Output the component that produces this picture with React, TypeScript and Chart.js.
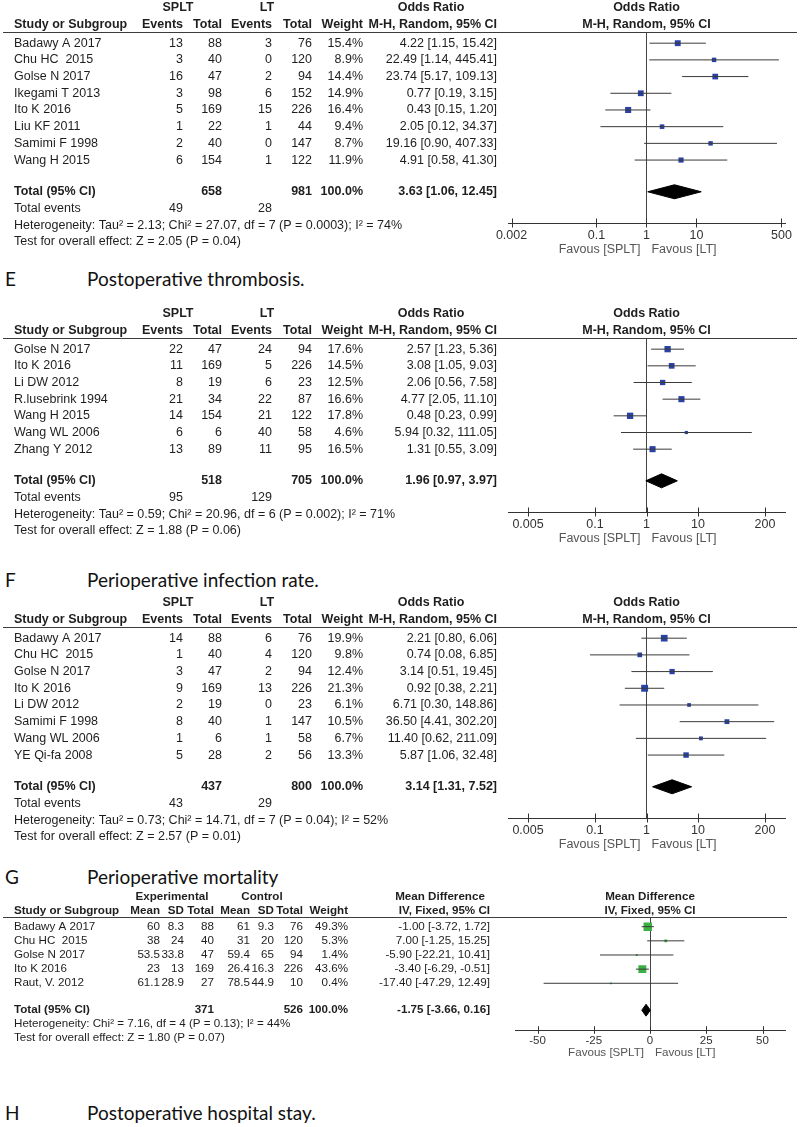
import React, { useEffect, useRef } from "react";
import { Chart, registerables } from "chart.js";

Chart.register(...registerables);

const FONT = '"Liberation Sans", Arial, Helvetica, sans-serif';
const CAP_FONT = 'Lato, "Open Sans", sans-serif';

// ---------- Panel 1 (odds ratio, top) ----------
const p1Studies = ["Badawy A 2017", "Chu HC  2015", "Golse N 2017", "Ikegami T 2013", "Ito K 2016", "Liu KF 2011", "Samimi F 1998", "Wang H 2015"];
const p1SpltEvents = [13, 3, 16, 3, 5, 1, 2, 6];
const p1SpltTotal = [88, 40, 47, 98, 169, 22, 40, 154];
const p1LtEvents = [3, 0, 2, 6, 15, 1, 0, 1];
const p1LtTotal = [76, 120, 94, 152, 226, 44, 147, 122];
const p1Weight = [15.4, 8.9, 14.4, 14.9, 16.4, 9.4, 8.7, 11.9];
const p1OR = [4.22, 22.49, 23.74, 0.77, 0.43, 2.05, 19.16, 4.91];
const p1Lo = [1.15, 1.14, 5.17, 0.19, 0.15, 0.12, 0.9, 0.58];
const p1Hi = [15.42, 445.41, 109.13, 3.15, 1.2, 34.37, 407.33, 41.3];
const p1Totals = [658, 981];
const p1TotalEvents = [49, 28];
const p1Pooled = [3.63, 1.06, 12.45];
const p1Het = "Heterogeneity: Tau² = 2.13; Chi² = 27.07, df = 7 (P = 0.0003); I² = 74%";
const p1Test = "Test for overall effect: Z = 2.05 (P = 0.04)";
const p1Ticks = [0.002, 0.1, 1, 10, 500];
const p1TickLabels = ["0.002", "0.1", "1", "10", "500"];

// ---------- Panel 2 (infection) ----------
const p2Studies = ["Golse N 2017", "Ito K 2016", "Li DW 2012", "R.lusebrink 1994", "Wang H 2015", "Wang WL 2006", "Zhang Y 2012"];
const p2SpltEvents = [22, 11, 8, 21, 14, 6, 13];
const p2SpltTotal = [47, 169, 19, 34, 154, 6, 89];
const p2LtEvents = [24, 5, 6, 22, 21, 40, 11];
const p2LtTotal = [94, 226, 23, 87, 122, 58, 95];
const p2Weight = [17.6, 14.5, 12.5, 16.6, 17.8, 4.6, 16.5];
const p2OR = [2.57, 3.08, 2.06, 4.77, 0.48, 5.94, 1.31];
const p2Lo = [1.23, 1.05, 0.56, 2.05, 0.23, 0.32, 0.55];
const p2Hi = [5.36, 9.03, 7.58, 11.1, 0.99, 111.05, 3.09];
const p2Totals = [518, 705];
const p2TotalEvents = [95, 129];
const p2Pooled = [1.96, 0.97, 3.97];
const p2Het = "Heterogeneity: Tau² = 0.59; Chi² = 20.96, df = 6 (P = 0.002); I² = 71%";
const p2Test = "Test for overall effect: Z = 1.88 (P = 0.06)";
const p2Ticks = [0.005, 0.1, 1, 10, 200];
const p2TickLabels = ["0.005", "0.1", "1", "10", "200"];

// ---------- Panel 3 (mortality) ----------
const p3Studies = ["Badawy A 2017", "Chu HC  2015", "Golse N 2017", "Ito K 2016", "Li DW 2012", "Samimi F 1998", "Wang WL 2006", "YE Qi-fa 2008"];
const p3SpltEvents = [14, 1, 3, 9, 2, 8, 1, 5];
const p3SpltTotal = [88, 40, 47, 169, 19, 40, 6, 28];
const p3LtEvents = [6, 4, 2, 13, 0, 1, 1, 2];
const p3LtTotal = [76, 120, 94, 226, 23, 147, 58, 56];
const p3Weight = [19.9, 9.8, 12.4, 21.3, 6.1, 10.5, 6.7, 13.3];
const p3OR = [2.21, 0.74, 3.14, 0.92, 6.71, 36.5, 11.4, 5.87];
const p3Lo = [0.8, 0.08, 0.51, 0.38, 0.3, 4.41, 0.62, 1.06];
const p3Hi = [6.06, 6.85, 19.45, 2.21, 148.86, 302.2, 211.09, 32.48];
const p3Totals = [437, 800];
const p3TotalEvents = [43, 29];
const p3Pooled = [3.14, 1.31, 7.52];
const p3Het = "Heterogeneity: Tau² = 0.73; Chi² = 14.71, df = 7 (P = 0.04); I² = 52%";
const p3Test = "Test for overall effect: Z = 2.57 (P = 0.01)";
const p3Ticks = [0.005, 0.1, 1, 10, 200];
const p3TickLabels = ["0.005", "0.1", "1", "10", "200"];

// ---------- Panel 4 (hospital stay, mean difference) ----------
const p4Studies = ["Badawy A 2017", "Chu HC  2015", "Golse N 2017", "Ito K 2016", "Raut, V. 2012"];
const p4ExpMean = [60, 38, 53.5, 23, 61.1];
const p4ExpSD = [8.3, 24, 33.8, 13, 28.9];
const p4ExpTotal = [88, 40, 47, 169, 27];
const p4CtlMean = [61, 31, 59.4, 26.4, 78.5];
const p4CtlSD = [9.3, 20, 65, 16.3, 44.9];
const p4CtlTotal = [76, 120, 94, 226, 10];
const p4Weight = [49.3, 5.3, 1.4, 43.6, 0.4];
const p4MD = [-1.0, 7.0, -5.9, -3.4, -17.4];
const p4Lo = [-3.72, -1.25, -22.21, -6.29, -47.29];
const p4Hi = [1.72, 15.25, 10.41, -0.51, 12.49];
const p4Totals = [371, 526];
const p4Pooled = [-1.75, -3.66, 0.16];
const p4Het = "Heterogeneity: Chi² = 7.16, df = 4 (P = 0.13); I² = 44%";
const p4Test = "Test for overall effect: Z = 1.80 (P = 0.07)";
const p4Ticks = [-50, -25, 0, 25, 50];
const p4TickLabels = ["-50", "-25", "0", "25", "50"];

// ---------- captions ----------
const captions = [
  { letter: "E", text: "Postoperative thrombosis.", y: 279 },
  { letter: "F", text: "Perioperative infection rate.", y: 580 },
  { letter: "G", text: "Perioperative mortality", y: 877 },
  { letter: "H", text: "Postoperative hospital stay.", y: 1113 },
];

type Col = { head: string; x: number; vals: string[]; total?: string; events?: string };
type PanelDef = {
  canvasTop: number;
  v: number; // vertical scale of the panel
  s: number; // font scale (horizontal)
  sq: number; // vertical squish of text glyphs
  axisRow: number; // axis position, rows after last study
  tickFont: number;
  studies: string[];
  groups: { label: string; x: number }[];
  cols: Col[];
  plotTitle: string;
  plotSub: string;
  het: string;
  test: string;
  hasEvents: boolean;
  est: number[];
  lo: number[];
  hi: number[];
  weight: number[];
  pooled: number[];
  xType: "logarithmic" | "linear";
  xMin: number;
  xMax: number;
  nullValue: number;
  ticks: number[];
  tickLabels: string[];
  plotLeft: number;
  plotRight: number;
  lineRight: number;
  markerColor: string;
  markerK: number;
  diamondH: number;
};

const ROW = 16.7;
const ci = (e: number, l: number, h: number) => `${e.toFixed(2)} [${l.toFixed(2)}, ${h.toFixed(2)}]`;
const pct = (w: number) => `${w.toFixed(1)}%`;

function orPanel(
  canvasTop: number,
  studies: string[], e1: number[], n1: number[], e2: number[], n2: number[], w: number[],
  est: number[], lo: number[], hi: number[], totals: number[], tev: number[], pooled: number[],
  het: string, test: string, ticks: number[], tickLabels: string[], xMin: number, xMax: number
): PanelDef {
  return {
    canvasTop, v: 1, s: 1, sq: 1, axisRow: 2.77, tickFont: 12.5, studies,
    groups: [{ label: "SPLT", x: 178 }, { label: "LT", x: 267 }, { label: "Odds Ratio", x: 431 }],
    cols: [
      { head: "Events", x: 183, vals: e1.map(String), events: String(tev[0]) },
      { head: "Total", x: 222, vals: n1.map(String), total: String(totals[0]) },
      { head: "Events", x: 272, vals: e2.map(String), events: String(tev[1]) },
      { head: "Total", x: 312, vals: n2.map(String), total: String(totals[1]) },
      { head: "Weight", x: 363, vals: w.map(pct), total: "100.0%" },
      { head: "M-H, Random, 95% CI", x: 497, vals: est.map((v, i) => ci(v, lo[i], hi[i])), total: ci(pooled[0], pooled[1], pooled[2]) },
    ],
    plotTitle: "Odds Ratio", plotSub: "M-H, Random, 95% CI",
    het, test, hasEvents: true, est, lo, hi, weight: w, pooled,
    xType: "logarithmic", xMin, xMax, nullValue: 1, ticks, tickLabels,
    plotLeft: 508, plotRight: 785, lineRight: 797,
    markerColor: "#2a42a6", markerK: 1.06, diamondH: 0.42,
  };
}

const panels: PanelDef[] = [
  orPanel(0, p1Studies, p1SpltEvents, p1SpltTotal, p1LtEvents, p1LtTotal, p1Weight, p1OR, p1Lo, p1Hi, p1Totals, p1TotalEvents, p1Pooled, p1Het, p1Test, p1Ticks, p1TickLabels, 0.0017, 590),
  orPanel(306, p2Studies, p2SpltEvents, p2SpltTotal, p2LtEvents, p2LtTotal, p2Weight, p2OR, p2Lo, p2Hi, p2Totals, p2TotalEvents, p2Pooled, p2Het, p2Test, p2Ticks, p2TickLabels, 0.00204, 490),
  orPanel(595, p3Studies, p3SpltEvents, p3SpltTotal, p3LtEvents, p3LtTotal, p3Weight, p3OR, p3Lo, p3Hi, p3Totals, p3TotalEvents, p3Pooled, p3Het, p3Test, p3Ticks, p3TickLabels, 0.00204, 490),
  {
    canvasTop: 890, v: 0.85, s: 0.93, sq: 0.92, axisRow: 2.3, tickFont: 11.5, studies: p4Studies,
    groups: [{ label: "Experimental", x: 172 }, { label: "Control", x: 262 }, { label: "Mean Difference", x: 440 }],
    cols: [
      { head: "Mean", x: 160, vals: p4ExpMean.map(String) },
      { head: "SD", x: 184, vals: p4ExpSD.map(String) },
      { head: "Total", x: 214, vals: p4ExpTotal.map(String), total: String(p4Totals[0]) },
      { head: "Mean", x: 250, vals: p4CtlMean.map(String) },
      { head: "SD", x: 274, vals: p4CtlSD.map(String) },
      { head: "Total", x: 303, vals: p4CtlTotal.map(String), total: String(p4Totals[1]) },
      { head: "Weight", x: 348, vals: p4Weight.map(pct), total: "100.0%" },
      { head: "IV, Fixed, 95% CI", x: 490, vals: p4MD.map((v, i) => ci(v, p4Lo[i], p4Hi[i])), total: ci(p4Pooled[0], p4Pooled[1], p4Pooled[2]) },
    ],
    plotTitle: "Mean Difference", plotSub: "IV, Fixed, 95% CI",
    het: p4Het, test: p4Test, hasEvents: false,
    est: p4MD, lo: p4Lo, hi: p4Hi, weight: p4Weight, pooled: p4Pooled,
    xType: "linear", xMin: -60, xMax: 60, nullValue: 0, ticks: p4Ticks, tickLabels: p4TickLabels,
    plotLeft: 515, plotRight: 785, lineRight: 787,
    markerColor: "#3cb043", markerK: 0.85, diamondH: 0.42,
  },
];

function panelHeight(p: PanelDef) {
  const n = p.studies.length;
  return Math.round(32 * p.v + (n + p.axisRow + 0.67) * ROW * p.v + 40 * p.v);
}

function makeTablePlugin(p: PanelDef) {
  return {
    id: "forestTable",
    afterDraw(chart: any) {
      const ctx: CanvasRenderingContext2D = chart.ctx;
      const ys = chart.scales.y;
      const xs = chart.scales.x;
      const area = chart.chartArea;
      const v = p.v;
      const fs = 12.5 * p.s;
      const row = (r: number) => ys.getPixelForValue(r);
      const nullX = xs.getPixelForValue(p.nullValue);
      ctx.save();
      const txt = (t: string, x: number, y: number, align: CanvasTextAlign, bold = false, color = "#1e1e1e") => {
        ctx.save();
        ctx.font = `${bold ? "bold " : ""}${fs}px ${FONT}`;
        ctx.textAlign = align;
        ctx.textBaseline = "middle";
        ctx.fillStyle = color;
        ctx.translate(x, y);
        ctx.scale(1, p.sq);
        ctx.fillText(t, 0, 0);
        ctx.restore();
      };
      // header underline
      ctx.strokeStyle = "#3c3c3c";
      ctx.lineWidth = 1;
      const uy = Math.round(area.top) + 0.5;
      ctx.beginPath();
      ctx.moveTo(3, uy);
      ctx.lineTo(p.lineRight, uy);
      ctx.stroke();

      const h1 = area.top - 24 * v;
      const h2 = area.top - 7 * v;
      p.groups.forEach((g) => txt(g.label, g.x, h1, "center", true));
      txt(p.plotTitle, nullX, h1, "center", true);
      txt("Study or Subgroup", 14, h2, "left", true);
      p.cols.forEach((c) => txt(c.head, c.x, h2, "right", true));
      txt(p.plotSub, nullX, h2, "center", true);

      p.studies.forEach((name, i) => {
        const y = row(i);
        txt(name, 14, y, "left");
        p.cols.forEach((c) => txt(c.vals[i], c.x, y, "right"));
      });
      const n = p.studies.length;
      const tRow = n + 0.9;
      txt("Total (95% CI)", 14, row(tRow), "left", true);
      p.cols.forEach((c) => c.total && txt(c.total, c.x, row(tRow), "right", true));
      let r = tRow + 1;
      if (p.hasEvents) {
        txt("Total events", 14, row(r), "left");
        p.cols.forEach((c) => c.events && txt(c.events, c.x, row(r), "right"));
        r += 1;
      }
      txt(p.het, 14, row(r), "left");
      txt(p.test, 14, row(r + 1), "left");

      // tick marks crossing the axis
      ctx.strokeStyle = "#333";
      ctx.lineWidth = 1;
      xs.ticks.forEach((t: any) => {
        const px = Math.round(xs.getPixelForValue(t.value)) + 0.5;
        ctx.beginPath();
        ctx.moveTo(px, area.bottom - 4.5 * v);
        ctx.lineTo(px, area.bottom + 4.5 * v);
        ctx.stroke();
      });
      // favours labels
      const fy = area.bottom + 27 * v;
      txt("Favous [SPLT]", nullX - 6, fy, "right", false, "#555");
      txt("Favous [LT]", nullX + 5, fy, "left", false, "#555");
      ctx.restore();
    },
  };
}

function buildChart(canvas: HTMLCanvasElement, p: PanelDef) {
  const n = p.studies.length;
  const yMin = -0.67;
  const yMax = n + p.axisRow;
  const axisH = 40 * p.v;
  const datasets: any[] = [];
  p.lo.forEach((lo, i) => {
    datasets.push({
      type: "line",
      data: [{ x: lo, y: i }, { x: p.hi[i], y: i }],
      borderColor: "#3a3a3a",
      borderWidth: 1,
      pointRadius: 0,
      showLine: true,
      fill: false,
      tension: 0,
    });
  });
  datasets.push({
    type: "scatter",
    data: p.est.map((val, i) => ({ x: val, y: i })),
    pointStyle: "rect",
    pointRadius: p.weight.map((w) => Math.max(1.3, p.markerK * Math.sqrt(w))),
    backgroundColor: p.markerColor,
    borderColor: p.markerColor,
    borderWidth: 0,
  });
  const tRow = n + 0.9;
  const [pe, pl, ph] = p.pooled;
  datasets.push({
    type: "line",
    data: [
      { x: pl, y: tRow },
      { x: pe, y: tRow - p.diamondH },
      { x: ph, y: tRow },
      { x: pe, y: tRow + p.diamondH },
      { x: pl, y: tRow },
    ],
    borderColor: "#000",
    backgroundColor: "#000",
    borderWidth: 1,
    pointRadius: 0,
    showLine: true,
    fill: "shape",
    tension: 0,
  });

  return new Chart(canvas, {
    type: "scatter",
    data: { datasets },
    options: {
      animation: false,
      responsive: true,
      maintainAspectRatio: false,
      events: [],
      layout: { padding: { left: p.plotLeft, right: 800 - p.plotRight, top: 32 * p.v, bottom: 0 } },
      plugins: { legend: { display: false }, tooltip: { enabled: false } },
      scales: {
        x: {
          type: p.xType,
          min: p.xMin,
          max: p.xMax,
          position: "bottom",
          afterBuildTicks: (sc: any) => {
            sc.ticks = p.ticks.map((val) => ({ value: val }));
          },
          afterFit: (sc: any) => {
            sc.height = axisH;
          },
          ticks: {
            autoSkip: false,
            maxRotation: 0,
            minRotation: 0,
            padding: 5 * p.v,
            color: "#333",
            font: { family: FONT, size: p.tickFont },
            callback: (_v: any, i: number) => p.tickLabels[i],
          },
          grid: {
            drawTicks: false,
            lineWidth: 1,
            color: (c: any) => (c.tick && c.tick.value === p.nullValue ? "#444" : "rgba(0,0,0,0)"),
          },
          border: { display: true, color: "#333", width: 1 },
        },
        y: { type: "linear", reverse: true, min: yMin, max: yMax, display: false },
      },
    } as any,
    plugins: [makeTablePlugin(p)],
  });
}

function ForestPanel({ p }: { p: PanelDef }) {
  const ref = useRef<HTMLCanvasElement>(null);
  useEffect(() => {
    if (!ref.current) return;
    const chart = buildChart(ref.current, p);
    return () => chart.destroy();
  }, [p]);
  const h = panelHeight(p);
  return (
    <div style={{ position: "absolute", left: 0, top: p.canvasTop, width: 800, height: h }}>
      <canvas ref={ref} />
    </div>
  );
}

export default function App() {
  return (
    <div style={{ position: "absolute", left: 0, top: 0, width: 800, height: 1127, background: "#fff", overflow: "hidden" }}>
      {panels.map((p, i) => (
        <ForestPanel key={i} p={p} />
      ))}
      {captions.map((c) => (
        <React.Fragment key={c.letter}>
          <div style={{ position: "absolute", left: 5, top: c.y - 11, fontFamily: CAP_FONT, fontSize: 19, lineHeight: "22px", color: "#111" }}>{c.letter}</div>
          <div style={{ position: "absolute", left: 87, top: c.y - 11, fontFamily: CAP_FONT, fontSize: 19, lineHeight: "22px", color: "#111", whiteSpace: "nowrap" }}>{c.text}</div>
        </React.Fragment>
      ))}
    </div>
  );
}
